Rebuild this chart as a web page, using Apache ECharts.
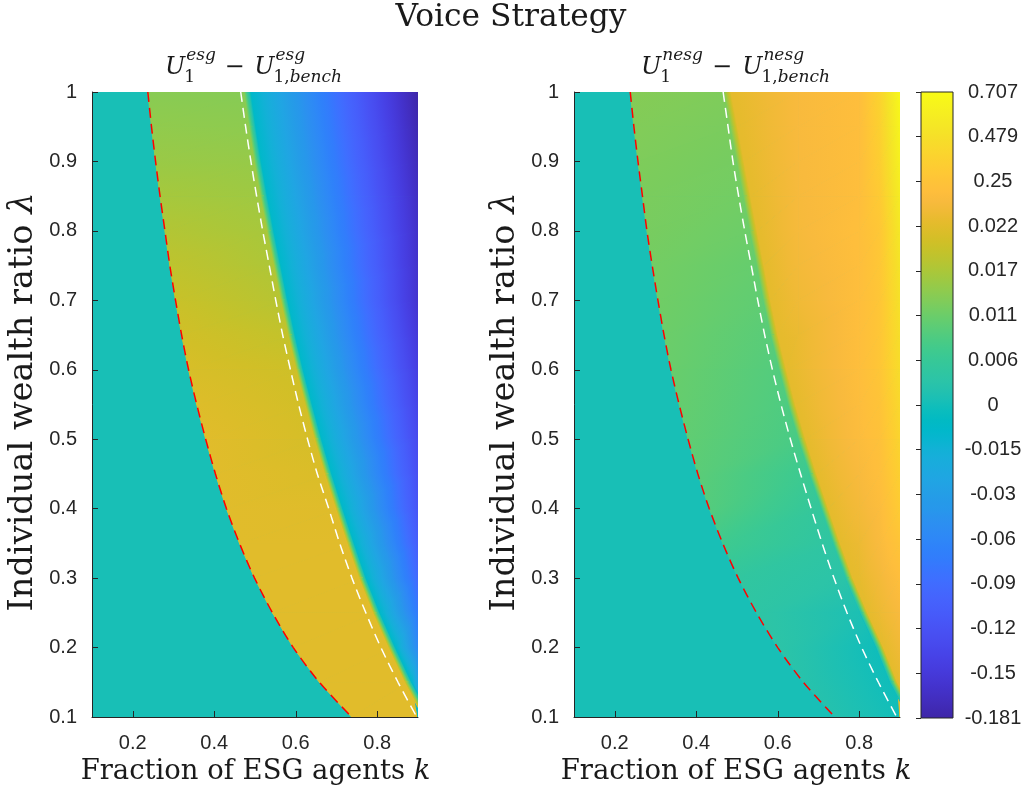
<!DOCTYPE html>
<html><head><meta charset="utf-8">
<script src="https://cdn.jsdelivr.net/npm/echarts@6/dist/echarts.min.js"></script>
<style>html,body{margin:0;padding:0;background:#fff}#c{width:1029px;height:795px}</style>
</head><body><div id="c"></div>
<script>
// ================= DATA =================
const lambdaRows = [1.0,0.95,0.9,0.85,0.8,0.75,0.7,0.65,0.6,0.55,0.5,0.45,0.4,0.35,0.3,0.25,0.2,0.15,0.1];
const xTickValues = [0.2,0.4,0.6,0.8];
const cbarTickLabels = ['-0.181','-0.15','-0.12','-0.09','-0.06','-0.03','-0.015','0','0.006','0.011','0.017','0.022','0.25','0.479','0.707'];
const cbarTickValues = cbarTickLabels.map(Number);

// Panel 1: U1^esg - U1,bench^esg
const esgRedX   = [0.237,0.246,0.256,0.267,0.279,0.291,0.305,0.320,0.337,0.357,0.379,0.403,0.430,0.462,0.499,0.543,0.594,0.658,0.737];
const esgWhiteX = [0.465,0.477,0.490,0.504,0.519,0.535,0.551,0.568,0.587,0.607,0.629,0.653,0.681,0.708,0.738,0.772,0.809,0.851,0.897];
const esgEdgeX  = [0.482,0.494,0.507,0.522,0.538,0.555,0.572,0.590,0.610,0.632,0.655,0.680,0.707,0.735,0.764,0.798,0.836,0.876,0.922];
const esgLeftVal = 0.0006;
const esgBandL = [0.0137,0.0145,0.0153,0.0165,0.0176,0.0186,0.0195,0.0203,0.0210,0.0216,0.0220,0.0222,0.0224,0.0225,0.0226,0.0226,0.0226,0.0226,0.0226];
const esgBandR = [0.0135,0.0142,0.0150,0.0158,0.0166,0.0172,0.0179,0.0190,0.0200,0.0204,0.0207,0.0212,0.0218,0.0222,0.0224,0.0225,0.0225,0.0225,0.0225];
const esgNearVal = -0.0085;
const esgRightCols = [0.9];
const esgRightVals = [[-0.181],[-0.176],[-0.171],[-0.166],[-0.162],[-0.160],[-0.158],[-0.151],[-0.144],[-0.137],[-0.130],[-0.123],[-0.117],[-0.106],[-0.093],[-0.075],[-0.057],[-0.026],[null]];

// Panel 2: U1^nesg - U1,bench^nesg
const nesgRedX   = [0.238,0.247,0.257,0.268,0.279,0.292,0.306,0.321,0.338,0.358,0.380,0.404,0.432,0.465,0.503,0.548,0.600,0.663,0.740];
const nesgWhiteX = [0.466,0.478,0.490,0.504,0.519,0.535,0.551,0.568,0.587,0.608,0.631,0.656,0.682,0.709,0.738,0.770,0.806,0.847,0.892];
const nesgEdgeX  = [0.476,0.492,0.508,0.524,0.540,0.557,0.573,0.591,0.612,0.634,0.659,0.686,0.715,0.744,0.775,0.811,0.850,0.884,0.930];
const nesgLeftVal = 0.0006;
const nesgBandL = [0.0134,0.0131,0.0128,0.0125,0.0122,0.0118,0.0115,0.0111,0.0108,0.0105,0.0101,0.0096,0.0090,0.0070,0.0047,0.0038,0.0033,0.0025,0.0020];
const nesgBandR = [0.0128,0.0124,0.0120,0.0116,0.0111,0.0105,0.0100,0.0094,0.0089,0.0085,0.0080,0.0065,0.0050,0.0040,0.0030,0.0010,-0.0010,-0.0010,-0.0010];
const nesgNearVal = 0.04;
const nesgRightCols = [0.65,0.8,0.85,0.9];
const nesgRightVals = [
  [0.15,0.20,0.38,0.68],[0.15,0.20,0.36,0.65],[0.145,0.20,0.34,0.62],[0.14,0.20,0.31,0.58],
  [0.135,0.21,0.28,0.54],[0.12,0.20,0.28,0.51],[0.10,0.20,0.27,0.49],[0.07,0.20,0.27,0.47],
  [null,0.20,0.27,0.455],[null,0.19,0.25,0.42],[null,0.18,0.23,0.39],[null,0.15,0.21,0.355],
  [null,0.12,0.18,0.32],[null,0.08,0.16,0.26],[null,0.05,0.12,0.20],[null,null,0.08,0.15],
  [null,null,null,0.10],[null,null,null,0.06],[null,null,null,null]];

// ================= COLOUR MAP (parula) =================
const PARULA = [[0.2422,0.1504,0.6603],[0.2504,0.1650,0.7076],[0.2578,0.1818,0.7511],[0.2647,0.1978,0.7952],[0.2706,0.2147,0.8364],[0.2751,0.2342,0.8710],[0.2783,0.2559,0.8991],[0.2803,0.2782,0.9221],[0.2813,0.3006,0.9414],[0.2810,0.3228,0.9579],[0.2795,0.3447,0.9717],[0.2760,0.3667,0.9829],[0.2699,0.3892,0.9906],[0.2602,0.4123,0.9952],[0.2440,0.4358,0.9988],[0.2206,0.4603,0.9973],[0.1963,0.4847,0.9892],[0.1834,0.5074,0.9798],[0.1786,0.5289,0.9682],[0.1764,0.5499,0.9520],[0.1687,0.5703,0.9359],[0.1540,0.5902,0.9218],[0.1460,0.6091,0.9079],[0.1380,0.6276,0.8973],[0.1248,0.6459,0.8883],[0.1113,0.6635,0.8763],[0.0952,0.6798,0.8598],[0.0689,0.6948,0.8394],[0.0297,0.7082,0.8163],[0.0036,0.7203,0.7917],[0.0067,0.7312,0.7660],[0.0433,0.7411,0.7394],[0.0964,0.7500,0.7120],[0.1408,0.7584,0.6842],[0.1717,0.7670,0.6554],[0.1938,0.7758,0.6251],[0.2161,0.7843,0.5923],[0.2470,0.7918,0.5567],[0.2906,0.7973,0.5188],[0.3406,0.8008,0.4789],[0.3909,0.8029,0.4354],[0.4456,0.8024,0.3909],[0.5044,0.7993,0.3480],[0.5616,0.7942,0.3045],[0.6174,0.7876,0.2612],[0.6720,0.7793,0.2227],[0.7242,0.7698,0.1910],[0.7738,0.7598,0.1646],[0.8203,0.7498,0.1535],[0.8634,0.7406,0.1596],[0.9035,0.7330,0.1774],[0.9393,0.7288,0.2100],[0.9728,0.7298,0.2394],[0.9956,0.7434,0.2371],[0.9970,0.7659,0.2199],[0.9952,0.7893,0.2028],[0.9892,0.8136,0.1885],[0.9786,0.8386,0.1766],[0.9676,0.8639,0.1643],[0.9610,0.8890,0.1537],[0.9597,0.9135,0.1423],[0.9628,0.9373,0.1265],[0.9691,0.9606,0.1064],[0.9769,0.9839,0.0805]];
const NPOS = cbarTickValues.length - 1;
const NC = PARULA.length - 1;
function rgb(c){ return 'rgb(' + c.map(v => Math.round(255 * v)).join(',') + ')'; }
function valToPos(v){
  const t = cbarTickValues;
  if (v <= t[0]) return 0;
  if (v >= t[NPOS]) return NPOS;
  for (let k = 0; k < NPOS; k++) if (v <= t[k + 1]) return k + (v - t[k]) / (t[k + 1] - t[k]);
  return NPOS;
}
function posColor(p){
  const f = Math.max(0, Math.min(1, p / NPOS)) * NC;
  const k = Math.min(NC - 1, Math.floor(f)), r = f - k;
  const a = PARULA[k], b = PARULA[k + 1];
  return rgb([0,1,2].map(j => a[j] + (b[j] - a[j]) * r));
}
function stopsBetween(p0, p1){
  const res = [{offset: 0, color: posColor(p0)}];
  const f0 = p0 / NPOS * NC, f1 = p1 / NPOS * NC;
  for (let k = Math.floor(f0) + 1; k < f1; k++) res.push({offset: (k - f0) / (f1 - f0), color: rgb(PARULA[k])});
  res.push({offset: 1, color: posColor(p1)});
  return res;
}
// exact linear (in colour-bar position) shading of a triangle
function triFill(a, b, c){
  const d1x = b.X - a.X, d1y = b.Y - a.Y, d2x = c.X - a.X, d2y = c.Y - a.Y;
  const det = d1x * d2y - d1y * d2x;
  if (Math.abs(det) < 1e-6) return null;
  const dp1 = b.p - a.p, dp2 = c.p - a.p;
  const gx = (dp1 * d2y - dp2 * d1y) / det, gy = (d1x * dp2 - d2x * dp1) / det;
  const g = Math.hypot(gx, gy);
  const pmin = Math.min(a.p, b.p, c.p), pmax = Math.max(a.p, b.p, c.p);
  if (g < 1e-9 || pmax - pmin < 1e-6) return posColor((a.p + b.p + c.p) / 3);
  const ux = gx / g, uy = gy / g;
  return new echarts.graphic.LinearGradient(
    a.X + ux * (pmin - a.p) / g, a.Y + uy * (pmin - a.p) / g,
    a.X + ux * (pmax - a.p) / g, a.Y + uy * (pmax - a.p) / g,
    stopsBetween(pmin, pmax), true);
}
function zipper(T, B, out){
  let i = 0, j = 0;
  while (i < T.length - 1 || j < B.length - 1){
    let tri;
    if (i === T.length - 1){ tri = [T[i], B[j], B[j + 1]]; j++; }
    else if (j === B.length - 1){ tri = [T[i], T[i + 1], B[j]]; i++; }
    else if (T[i + 1].X <= B[j + 1].X){ tri = [T[i], T[i + 1], B[j]]; i++; }
    else { tri = [T[i], B[j], B[j + 1]]; j++; }
    const f = triFill(tri[0], tri[1], tri[2]);
    if (f) out.push({type: 'polygon', shape: {points: tri.map(q => [q.X, q.Y])}, style: {fill: f, stroke: f, lineWidth: 1}});
  }
}

const panels = [
  {redX: esgRedX, whiteX: esgWhiteX, edgeX: esgEdgeX, leftVal: esgLeftVal, bandL: esgBandL, bandR: esgBandR, nearVal: esgNearVal, rightCols: esgRightCols, rightVals: esgRightVals},
  {redX: nesgRedX, whiteX: nesgWhiteX, edgeX: nesgEdgeX, leftVal: nesgLeftVal, bandL: nesgBandL, bandR: nesgBandR, nearVal: nesgNearVal, rightCols: nesgRightCols, rightVals: nesgRightVals}
];
const XMIN = 0.1, XMAX = 0.9, HALF = 0.009;

function makeRender(P){
  return function(params, api){
    const i = api.value(2);
    const C = (x, y, v) => { const q = api.coord([x, y]); return {X: q[0], Y: q[1], p: valToPos(v)}; };
    const kids = [];
    if (i === 0){
      const top = lambdaRows[0], bot = lambdaRows[lambdaRows.length - 1];
      const col = posColor(valToPos(P.leftVal));
      kids.push({type: 'polygon', shape: {points: [[XMIN, top], [XMAX, top], [XMAX, bot], [XMIN, bot]].map(q => api.coord(q))}, style: {fill: col}});
    }
    const rowBand = r => [C(P.redX[r], lambdaRows[r], P.bandL[r]), C(P.edgeX[r], lambdaRows[r], P.bandR[r])];
    const rowSliver = r => [C(P.edgeX[r] - HALF, lambdaRows[r], P.bandR[r]), C(P.edgeX[r] + HALF, lambdaRows[r], P.nearVal)];
    const rowMain = r => {
      const y = lambdaRows[r];
      const start = Math.min(P.edgeX[r] + HALF, XMAX);
      const list = [C(start, y, P.nearVal)];
      if (start < XMAX){
        P.rightCols.forEach((cx, c) => {
          const v = P.rightVals[r][c];
          if (cx > start + 0.003 && v !== null) list.push(C(cx, y, v));
        });
      }
      return list;
    };
    zipper(rowBand(i), rowBand(i + 1), kids);
    zipper(rowMain(i), rowMain(i + 1), kids);
    zipper(rowSliver(i), rowSliver(i + 1), kids);
    return {type: 'group', children: kids};
  };
}

// ================= TEXT LAYOUT =================
const mctx = document.createElement('canvas').getContext('2d');
const SERIF = 'DejaVu Serif';
function tw(text, size, ital){ mctx.font = (ital ? 'italic ' : '') + size + 'px "' + SERIF + '"'; return mctx.measureText(text).width; }
const INK = '#1a1a1a';
const MID = 0.346;
function label(main, ital, cx, baseline, targetW, rotated){
  const base = 20;
  const s = base * targetW / (tw(main, base, false) + (ital ? tw(ital, base, true) : 0));
  const off = MID * s;
  return {
    type: 'text', x: rotated ? baseline - off : cx, y: rotated ? cx : baseline - off,
    rotation: rotated ? Math.PI / 2 : 0,
    style: {text: main + (ital ? '{i|' + ital + '}' : ''), fontSize: s, fontFamily: SERIF, fill: INK,
      align: 'center', verticalAlign: 'middle',
      rich: {i: {fontSize: s, fontFamily: SERIF, fontStyle: 'italic', fill: INK}}}
  };
}
function mathTitle(sup, x0, x1){
  const s = 24, ss = 17, bl = 76.5, supBl = 61, subBl = 83;
  const wU = tw('U', s, true), wSup = tw(sup, ss, true), wS1 = tw('1', ss, false);
  const wS2 = tw('1,', ss, false) + tw('bench', ss, true), wM = tw('\u2212', s, false);
  const fixed = 2 * wU + Math.max(wSup, wS1) + wM + Math.max(wSup, wS2);
  const gap = Math.max(3, ((x1 - x0) - fixed) / 2);
  const els = [];
  const T = (text, x, b, size, ital, rich) => els.push({type: 'text', x, y: b - MID * size,
    style: {text, fontSize: size, fontFamily: SERIF, fontStyle: ital ? 'italic' : 'normal', fill: INK, align: 'left', verticalAlign: 'middle', rich: rich || {}}});
  let x = x0;
  T('U', x, bl, s, true); x += wU;
  T(sup, x + 1, supBl, ss, true);
  T('1', x - 1, subBl, ss, false);
  x += Math.max(wSup, wS1) + gap;
  T('\u2212', x, bl, s, false); x += wM + gap;
  T('U', x, bl, s, true); x += wU;
  T(sup, x + 1, supBl, ss, true);
  T('1,{b|bench}', x - 1, subBl, ss, false, {b: {fontSize: ss, fontFamily: SERIF, fontStyle: 'italic', fill: INK}});
  return els;
}

const graphics = [
  label('Voice Strategy', '', 511, 29, 231, false),
  label('Fraction of ESG agents ', 'k', 255.5, 781, 350, false),
  label('Fraction of ESG agents ', 'k', 736, 781, 351, false),
  label('Individual wealth ratio ', '\u03bb', 402, 35, 419, true),
  label('Individual wealth ratio ', '\u03bb', 402, 517, 419, true),
  ...mathTitle('esg', 165, 343),
  ...mathTitle('nesg', 641, 831)
];

// ================= CHART =================
const AX = '#262626';
const tickFont = {fontFamily: 'Liberation Sans', fontSize: 20, color: AX};
function xAxisFor(g){
  return {type: 'value', gridIndex: g, min: XMIN, max: XMAX, z: 10,
    axisLine: {show: true, lineStyle: {color: AX, width: 1}},
    axisTick: {show: true, inside: true, length: 6, customValues: xTickValues, lineStyle: {color: AX}},
    axisLabel: Object.assign({customValues: xTickValues, margin: 16, formatter: v => v.toFixed(1)}, tickFont),
    splitLine: {show: false}};
}
function yAxisFor(g){
  return {type: 'value', gridIndex: g, min: 0.1, max: 1, interval: 0.1, z: 10,
    axisLine: {show: true, lineStyle: {color: AX, width: 1}},
    axisTick: {show: true, inside: true, length: 6, lineStyle: {color: AX}},
    axisLabel: Object.assign({margin: 15, formatter: v => String(Math.round(v * 10) / 10)}, tickFont),
    splitLine: {show: false}};
}
const stripData = lambdaRows.slice(0, -1).map((_, i) => [0.5, 0.5, i]);
const series = [];
panels.forEach((P, g) => {
  series.push({type: 'custom', xAxisIndex: g, yAxisIndex: g, clip: true, silent: true, z: 1,
    encode: {x: 0, y: 1}, data: stripData, renderItem: makeRender(P)});
  series.push({type: 'line', xAxisIndex: g, yAxisIndex: g, silent: true, z: 5, showSymbol: false, smooth: 0.3,
    data: lambdaRows.map((y, i) => [P.redX[i], y]), lineStyle: {color: '#ff0000', width: 1.5, type: [10, 6]}});
  series.push({type: 'line', xAxisIndex: g, yAxisIndex: g, silent: true, z: 5, showSymbol: false, smooth: 0.3,
    data: lambdaRows.map((y, i) => [P.whiteX[i], y]), lineStyle: {color: '#ffffff', width: 1.5, type: [10, 6]}});
});
series.push({type: 'custom', xAxisIndex: 2, yAxisIndex: 2, silent: true, z: 1, encode: {x: 0, y: 1},
  data: [[0.5, NPOS / 2]],
  renderItem(params, api){
    const p0 = api.coord([0, 0]), p1 = api.coord([1, NPOS]);
    const x = p0[0], y = p1[1], w = p1[0] - p0[0], h = p0[1] - p1[1];
    const stops = PARULA.map((c, k) => ({offset: 1 - k / NC, color: rgb(c)})).reverse();
    return {type: 'group', children: [
      {type: 'rect', shape: {x, y, width: w, height: h}, style: {fill: new echarts.graphic.LinearGradient(0, 0, 0, 1, stops)}},
      {type: 'rect', shape: {x, y, width: w, height: h}, style: {fill: 'none', stroke: AX, lineWidth: 1}}
    ]};
  }});

const chart = echarts.init(document.getElementById('c'), null, {renderer: 'canvas'});
chart.setOption({
  animation: false,
  backgroundColor: '#ffffff',
  grid: [
    {left: 92, top: 92, width: 326, height: 625, containLabel: false, outerBoundsMode: 'none'},
    {left: 574, top: 92, width: 326, height: 625, containLabel: false, outerBoundsMode: 'none'},
    {left: 921, top: 92, width: 32, height: 626, containLabel: false, outerBoundsMode: 'none'}
  ],
  xAxis: [xAxisFor(0), xAxisFor(1), {type: 'value', gridIndex: 2, min: 0, max: 1, show: false}],
  yAxis: [yAxisFor(0), yAxisFor(1), {type: 'value', gridIndex: 2, min: 0, max: NPOS, interval: 1, position: 'right', z: 10,
    axisLine: {show: false}, splitLine: {show: false},
    axisTick: {show: true, inside: true, length: 5, lineStyle: {color: AX}},
    axisLabel: Object.assign({align: 'center', margin: 40, formatter: v => cbarTickLabels[Math.round(v)]}, tickFont)}],
  graphic: {elements: graphics},
  series
});
</script></body></html>
